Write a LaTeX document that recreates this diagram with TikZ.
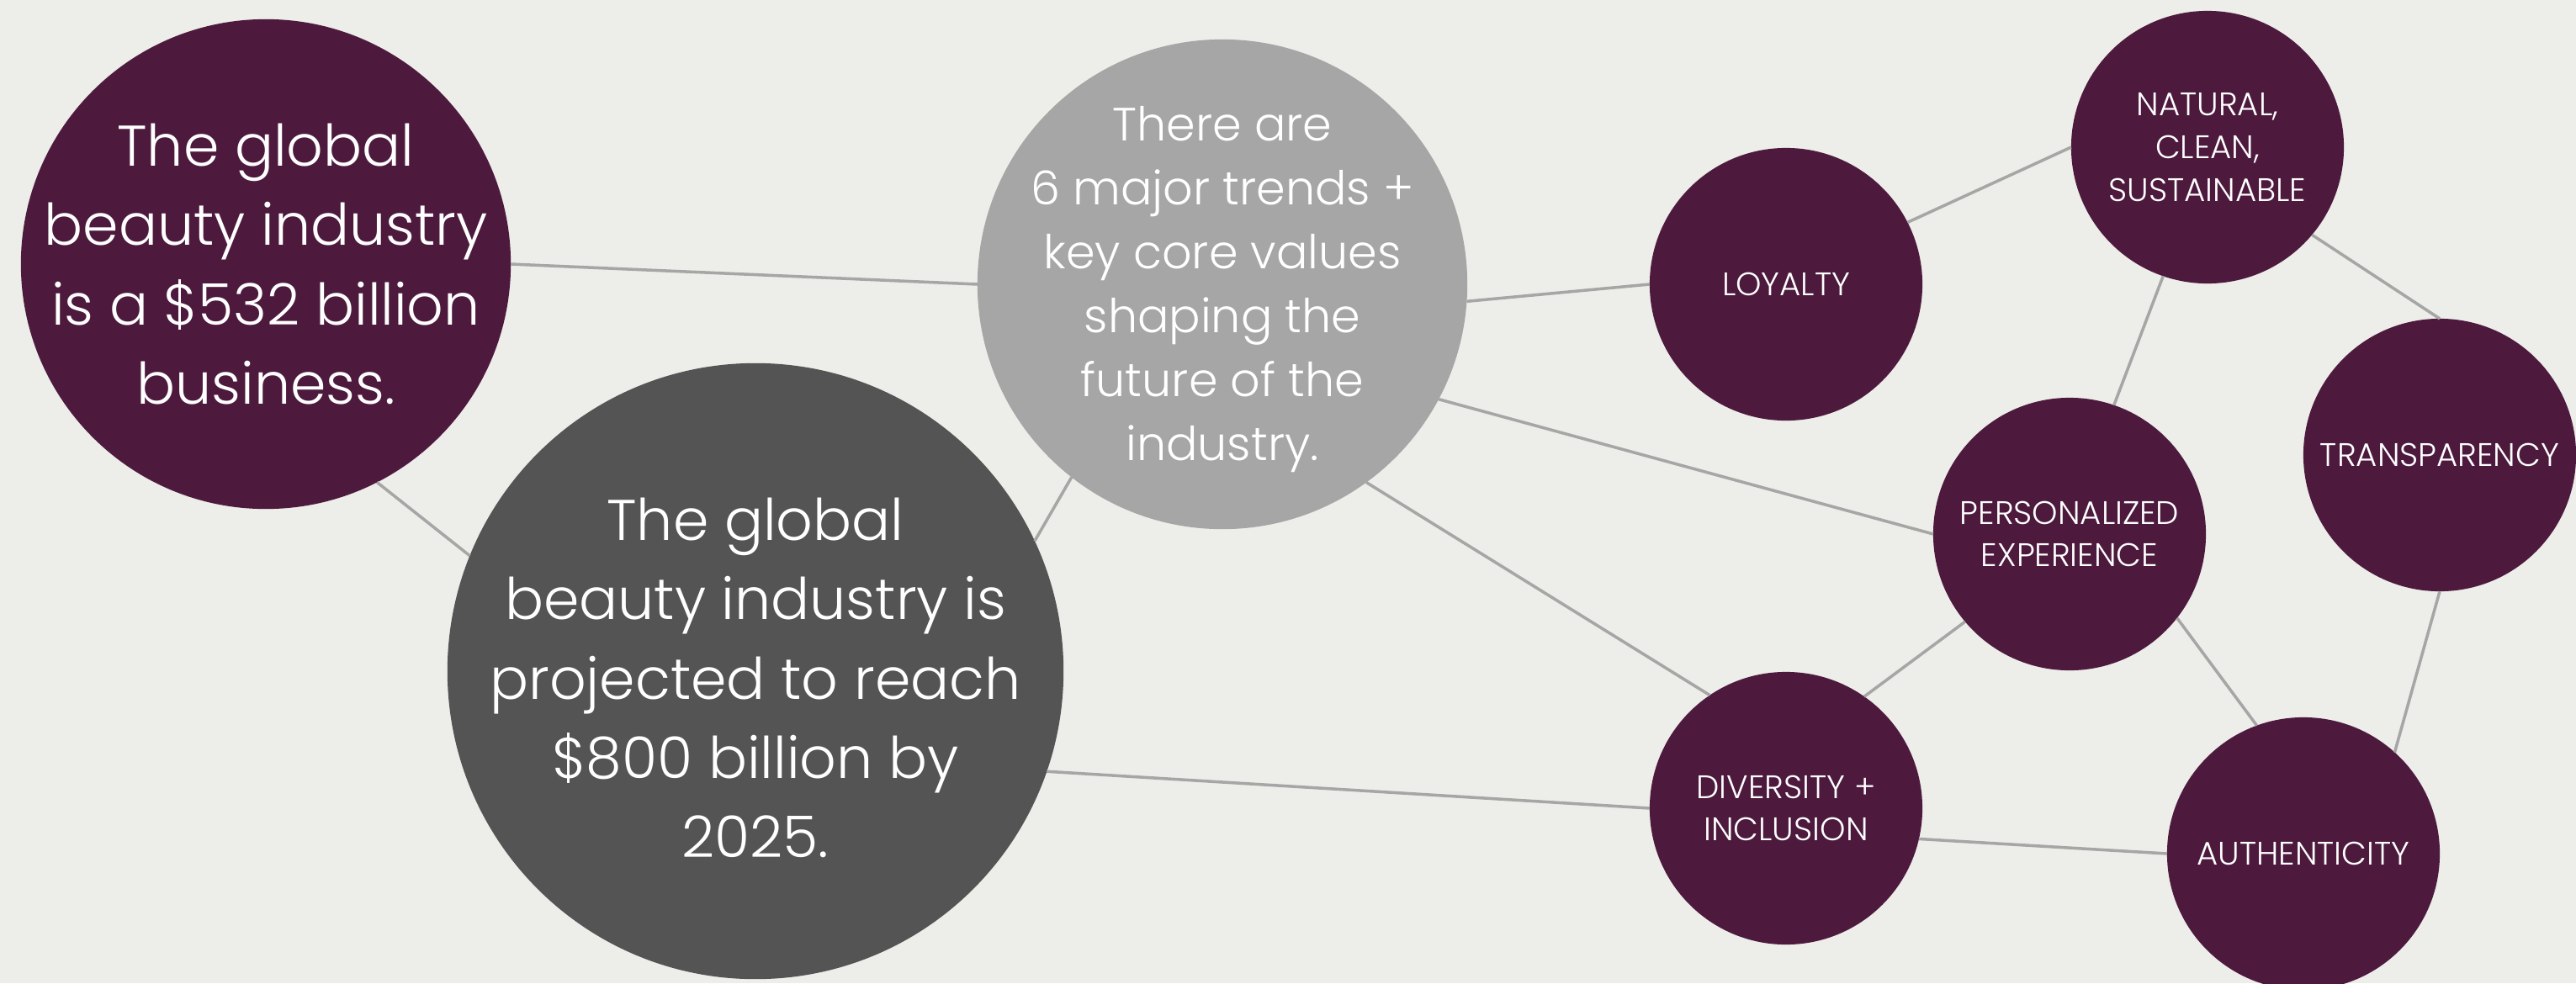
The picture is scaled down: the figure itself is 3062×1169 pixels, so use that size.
\documentclass[tikz,border=0pt]{standalone}
\usepackage{fontspec}
\setmainfont{Poppins Light}
\usepackage{tikz}
\usetikzlibrary{shapes,backgrounds}

\definecolor{plum}{HTML}{4D1A3E}
\definecolor{slate}{HTML}{545454}
\definecolor{silver}{HTML}{A6A6A6}
\definecolor{paper}{HTML}{EDEDE9}

\begin{document}
\begin{tikzpicture}[x=0.01cm, y=-0.01cm,
    disc/.style={circle, inner sep=0pt, outer sep=0pt},
    bigtext/.style={text=white, align=center, font=\fontsize{19.4}{26.8}\selectfont},
    hubtext/.style={text=white, align=center, font=\fontsize{15.8}{21.6}\selectfont},
    trendtext/.style={text=white, align=center, font=\fontsize{11}{14.4}\selectfont},
    fact/.style={disc, minimum size=5.82cm},
    hub/.style={disc, fill=silver, minimum size=5.82cm},
    trend/.style={disc, fill=plum, minimum size=3.24cm},
    line/.style={draw=silver, line width=1pt}]

    % Canvas
    \useasboundingbox (0,0) rectangle (3062,1169);
    \fill [paper] (0,0) rectangle (3062,1169);

    % Market figures
    \node [fact, fill=plum, label={[bigtext]center:The global\\beauty industry\\is a \$532 billion\\business.}] (today) at (316,314) {};
    \node [fact, fill=slate, minimum size=7.32cm, label={[bigtext, yshift=-0.08cm]center:The global\\beauty industry is\\projected to reach\\\$800 billion by\\2025.}] (future) at (898,798) {};

    % Centre
    \node [hub, label={[hubtext, yshift=-0.06cm]center:There are\\6 major trends +\\key core values\\shaping the\\future of the\\industry.}] (trends) at (1453,338) {};

    % Trends
    \node [trend, label={[trendtext]center:LOYALTY}] (loyalty) at (2123,338) {};
    \node [trend, label={[trendtext]center:NATURAL,\\CLEAN,\\SUSTAINABLE}] (natural) at (2624,175) {};
    \node [trend, label={[trendtext]center:TRANSPARENCY}] (transp) at (2900,541) {};
    \node [trend, label={[trendtext]center:PERSONALIZED\\EXPERIENCE}] (personal) at (2460,635) {};
    \node [trend, label={[trendtext]center:DIVERSITY +\\INCLUSION}] (diversity) at (2123,961) {};
    \node [trend, label={[trendtext]center:AUTHENTICITY}] (authentic) at (2738,1015) {};

    % Links
    \path [line] (today.east) -- (trends.west);
    \path [line] (today.-63) -- (future.158);
    \path [line] (future.25) -- (trends.232);
    \path [line] (future.-19) -- (diversity.west);
    \path [line] (trends.-4) -- (loyalty.west);
    \path [line] (trends.-28) -- (personal.west);
    \path [line] (trends.-54) -- (diversity.124);
    \path [line] (loyalty.27) -- (natural.west);
    \path [line] (natural.-109) -- (personal.71);
    \path [line] (natural.-40) -- (transp.north);
    \path [line] (personal.220) -- (diversity.55);
    \path [line] (personal.-38) -- (authentic.110);
    \path [line] (transp.south) -- (authentic.48);
    \path [line] (diversity.-13) -- (authentic.west);

\end{tikzpicture}
\end{document}
